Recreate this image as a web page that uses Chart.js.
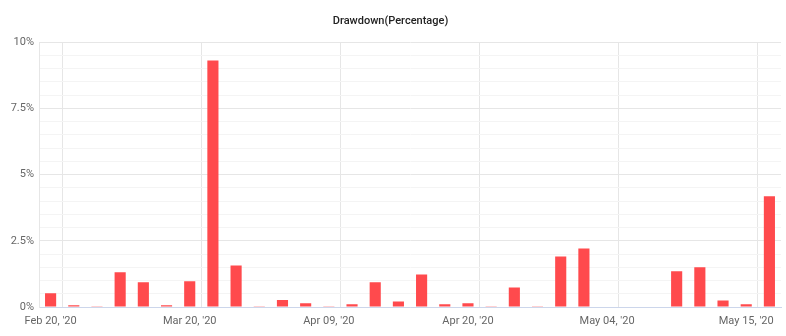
<!DOCTYPE html>
<html>
<head>
<meta charset="utf-8">
<script src="https://cdn.jsdelivr.net/npm/chart.js@4"></script>
<style>
    html, body { margin: 0; padding: 0; background: #fff; }
    #wrap { width: 786px; height: 336px; }
</style>
</head>
<body>
<div id="wrap"><canvas id="chartDrawdown"></canvas></div>
<script>
// categorias (solo se leen las fechas que muestra el eje)
const categorias = [
    "Feb 20, '20", '', '', '', '', '',
    "Mar 20, '20", '', '', '', '', '',
    "Apr 09, '20", '', '', '', '', '',
    "Apr 20, '20", '', '', '', '', '',
    "May 04, '20", '', '', '', '', '',
    "May 15, '20", ''
];

// drawdown en %
const drawdown = [
    0.52, 0.07, 0.03, 1.31, 0.93, 0.07,
    0.97, 9.31, 1.57, 0.03, 0.26, 0.14,
    0.03, 0.10, 0.93, 0.21, 1.23, 0.10,
    0.14, 0.03, 0.74, 0.03, 1.91, 2.21,
    0, 0, 0, 1.35, 1.50, 0.25,
    0.10, 4.18
];

const ticksY = [0, 2.5, 5, 7.5, 10];

const fuente = "Roboto, 'Liberation Sans', Arial, sans-serif";

new Chart(document.getElementById('chartDrawdown'), {
    type: 'bar',
    data: {
        labels: categorias,
        datasets: [{
            label: 'Drawdown',
            data: drawdown,
            backgroundColor: '#ff4a4d',
            borderWidth: 0,
            categoryPercentage: 1,
            barPercentage: 0.48
        }]
    },
    options: {
        responsive: true,
        maintainAspectRatio: false,
        animation: false,
        layout: { padding: { top: 0, right: 5, bottom: 0, left: 0 } },
        plugins: {
            legend: { display: false },
            tooltip: { enabled: false },
            title: {
                display: true,
                text: 'Drawdown(Percentage)',
                color: '#222',
                font: { family: fuente, size: 11, weight: '500' },
                padding: { top: 15, bottom: 14 }
            }
        },
        scales: {
            x: {
                offset: true,
                grid: {
                    offset: true,
                    drawTicks: false,
                    color: (ctx) => (ctx.index % 6 === 1 || ctx.index === categorias.length) ? '#e6e6e6' : 'rgba(0,0,0,0)'
                },
                border: { color: '#ccd6eb' },
                ticks: {
                    autoSkip: false,
                    maxRotation: 0,
                    minRotation: 0,
                    padding: 8,
                    color: '#666',
                    font: { family: fuente, size: 11 },
                    callback: (val, idx) => categorias[idx]
                },
                afterFit: (scale) => { scale.height = 29; }
            },
            y: {
                min: 0,
                max: 10,
                ticks: {
                    stepSize: 0.5,
                    autoSkip: false,
                    padding: 5,
                    color: '#666',
                    font: { family: fuente, size: 11 },
                    callback: (val) => ticksY.includes(val) ? val + '%' : ''
                },
                grid: {
                    drawTicks: false,
                    color: (ctx) => ticksY.includes(ctx.tick && ctx.tick.value) ? '#e6e6e6' : '#f4f4f4'
                },
                border: { color: '#e6e6e6' },
                afterFit: (scale) => { scale.width = 39; }
            }
        }
    }
});
</script>
</body>
</html>
